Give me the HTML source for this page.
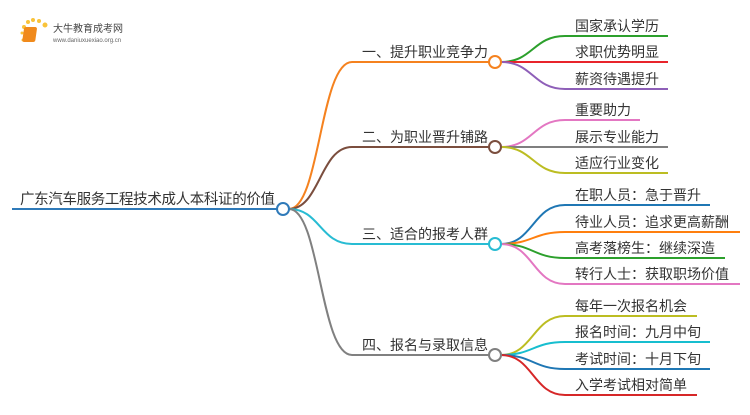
<!DOCTYPE html>
<html><head><meta charset="utf-8"><style>
body{margin:0;width:750px;height:410px;background:#fff;overflow:hidden}
svg text{font-family:"Liberation Sans","Noto Sans CJK SC",sans-serif;fill:#333}
</style></head><body>
<svg width="750" height="410" viewBox="0 0 750 410" xmlns="http://www.w3.org/2000/svg">
<g>
<circle cx="24" cy="27" r="2" fill="#f9c33a"/><circle cx="28" cy="22" r="2" fill="#f9c33a"/><circle cx="33" cy="20" r="2" fill="#f9c33a"/><circle cx="39" cy="21" r="2" fill="#f9c33a"/><circle cx="45" cy="25" r="2.5" fill="#f9c33a"/><circle cx="22" cy="33" r="1.5" fill="#f9c33a"/><circle cx="23" cy="40" r="1.5" fill="#f9c33a"/>
<rect x="28" y="27" width="13" height="15" rx="2" fill="#f08a1c" transform="skewX(-8)"/>
<text x="53" y="32" font-size="10" style="fill:#444">大牛教育成考网</text>
<text x="53" y="42" font-size="6" style="fill:#666">www.daniuxuexiao.org.cn</text>
</g>
<g fill="none" stroke-width="2">
<path d="M12 209H277" stroke="#2f7ab9"/>
<path d="M289 209C320 209 320 62 352 62H495" stroke="#f5821f"/>
<path d="M289 209C320 209 320 147 352 147H495" stroke="#7b4e3e"/>
<path d="M289 209C320 209 320 244 352 244H495" stroke="#28bcd3"/>
<path d="M289 209C320 209 320 355 352 355H495" stroke="#808080"/>
<path d="M501 62C533 62 533 36 565 36H668" stroke="#2ca02c"/>
<path d="M501 62H668" stroke="#e8242b"/>
<path d="M501 62C533 62 533 89 565 89H668" stroke="#8e5fb8"/>
<path d="M501 147C533 147 533 120 565 120H640" stroke="#e377c2"/>
<path d="M501 147H668" stroke="#7f7f7f"/>
<path d="M501 147C533 147 533 173 565 173H668" stroke="#bcbd22"/>
<path d="M501 244C533 244 533 205 565 205H710" stroke="#1f77b4"/>
<path d="M501 244C533 244 533 232 565 232H740" stroke="#ff7f0e"/>
<path d="M501 244C533 244 533 258 565 258H725" stroke="#2ca02c"/>
<path d="M501 244C533 244 533 284 565 284H740" stroke="#e377c2"/>
<path d="M501 355C533 355 533 316 565 316H697" stroke="#bcbd22"/>
<path d="M501 355C533 355 533 342 565 342H710" stroke="#17becf"/>
<path d="M501 355C533 355 533 369 565 369H710" stroke="#1f77b4"/>
<path d="M501 355C533 355 533 395 565 395H697" stroke="#d62728"/>
<circle cx="283" cy="209" r="6" fill="#fff" stroke="#2f7ab9"/>
<circle cx="495" cy="62" r="6" fill="#fff" stroke="#f5821f"/>
<circle cx="495" cy="147" r="6" fill="#fff" stroke="#7b4e3e"/>
<circle cx="495" cy="244" r="6" fill="#fff" stroke="#28bcd3"/>
<circle cx="495" cy="355" r="6" fill="#fff" stroke="#808080"/>
</g>
<text x="20" y="204" font-size="14.5" textLength="255">广东汽车服务工程技术成人本科证的价值</text>
<g font-size="14">
<text x="362" y="57">一、提升职业竞争力</text>
<text x="362" y="142">二、为职业晋升铺路</text>
<text x="362" y="239">三、适合的报考人群</text>
<text x="362" y="350">四、报名与录取信息</text>
<text x="575" y="31">国家承认学历</text>
<text x="575" y="57">求职优势明显</text>
<text x="575" y="84">薪资待遇提升</text>
<text x="575" y="115">重要助力</text>
<text x="575" y="142">展示专业能力</text>
<text x="575" y="168">适应行业变化</text>
<text x="575" y="200">在职人员：急于晋升</text>
<text x="575" y="227">待业人员：追求更高薪酬</text>
<text x="575" y="253">高考落榜生：继续深造</text>
<text x="575" y="279">转行人士：获取职场价值</text>
<text x="575" y="311">每年一次报名机会</text>
<text x="575" y="337">报名时间：九月中旬</text>
<text x="575" y="364">考试时间：十月下旬</text>
<text x="575" y="390">入学考试相对简单</text>
</g>
</svg>
</body></html>
